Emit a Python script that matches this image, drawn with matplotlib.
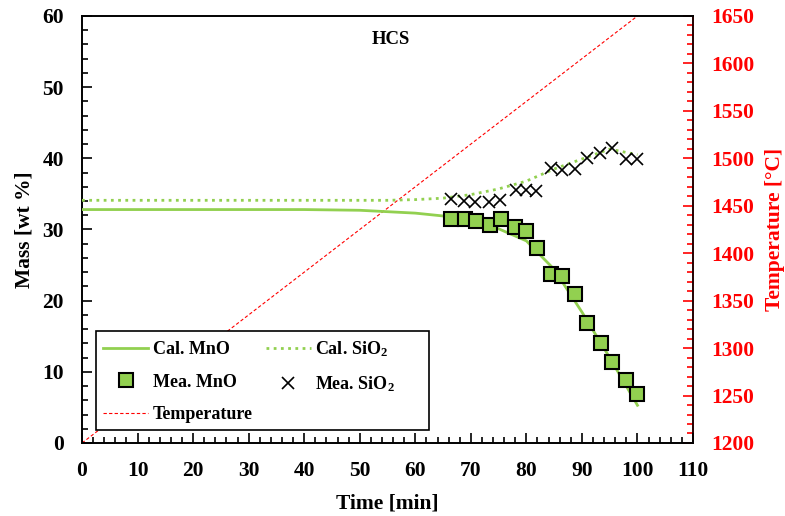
import matplotlib
matplotlib.use("Agg")
import matplotlib.pyplot as plt
from matplotlib.ticker import MultipleLocator
from matplotlib.patches import Rectangle

plt.rcParams['font.family'] = ['Liberation Serif', 'DejaVu Serif']
plt.rcParams['font.weight'] = 'bold'
plt.rcParams['mathtext.fontset'] = 'custom'
plt.rcParams['mathtext.rm'] = 'Liberation Serif:bold'
plt.rcParams['mathtext.it'] = 'Liberation Serif:bold'
plt.rcParams['mathtext.bf'] = 'Liberation Serif:bold'

# Calculated curves
cal_t = [0, 10, 20, 30, 40, 50, 55, 60, 65, 70, 75, 80, 85, 90, 95, 100]
cal_mno = [32.8, 32.8, 32.8, 32.8, 32.8, 32.7, 32.5, 32.3, 31.9, 31.2, 30.1, 28.4, 24.4, 18.4, 12.0, 5.3]
cal_sio2 = [34.1, 34.1, 34.1, 34.1, 34.1, 34.1, 34.1, 34.2, 34.4, 34.9, 35.7, 36.8, 38.5, 39.9, 41.3, 40.5]

# Measured values
mea_t = [66.5, 68.9, 70.9, 73.4, 75.5, 77.9, 79.9, 82.0, 84.4, 86.5, 88.8, 91.0, 93.4, 95.5, 98.0, 99.9]
mea_mno = [31.5, 31.5, 31.2, 30.6, 31.5, 30.4, 29.8, 27.4, 23.8, 23.5, 21.0, 16.9, 14.1, 11.4, 8.9, 6.9]
mea_sio2_t = [66.4, 68.8, 70.7, 73.3, 75.3, 78.2, 79.9, 81.7, 84.4, 86.5, 88.7, 90.9, 93.2, 95.4, 98.0, 99.9]
mea_sio2 = [34.3, 34.0, 33.9, 33.8, 34.2, 35.6, 35.5, 35.4, 38.6, 38.3, 38.5, 40.0, 40.7, 41.4, 39.9, 39.9]

# Temperature
temp_t = [0, 100]
temp_c = [1200, 1650]

green = '#92D050'
red = '#FF0000'

fig = plt.figure(figsize=(7.85, 5.16), dpi=100)
ax = fig.add_axes([0.1045, 0.1415, 0.7783, 0.8275])
ax2 = ax.twinx()

l1, = ax.plot(cal_t, cal_mno, color=green, lw=2.0, label='Cal. MnO', zorder=3)
l2, = ax.plot(cal_t, cal_sio2, color=green, lw=2.0, ls=(0, (1, 1.6)), label='Cal. SiO$_2$', zorder=3)
m1, = ax.plot(mea_t, mea_mno, ls='none', marker='s', ms=9.5, mfc=green, mec='black', mew=1.5,
              label='Mea. MnO', zorder=4)
m2, = ax.plot(mea_sio2_t, mea_sio2, ls='none', marker='x', ms=9, mec='black', mew=1.2,
              label='Mea. SiO$_2$', zorder=4)
t1, = ax2.plot(temp_t, temp_c, color=red, lw=0.8, ls=(0, (3, 2)), label='Temperature')

ax.set_xlim(0, 110)
ax.set_ylim(0, 60)
ax2.set_ylim(1200, 1650)

ax.xaxis.set_major_locator(MultipleLocator(10))
ax.xaxis.set_minor_locator(MultipleLocator(2))
ax.yaxis.set_major_locator(MultipleLocator(10))
ax.yaxis.set_minor_locator(MultipleLocator(2))
ax2.yaxis.set_major_locator(MultipleLocator(50))
ax2.yaxis.set_minor_locator(MultipleLocator(10))

ax.tick_params(axis='both', which='both', direction='in', labelsize=15.5, width=1.2, color='black')
ax.tick_params(axis='both', which='major', length=7, pad=13)
ax.tick_params(axis='both', which='minor', length=4)
ax.tick_params(axis='x', which='both', top=False)
ax2.tick_params(axis='y', which='both', direction='in', colors=red, labelsize=15.5, width=1.2)
ax2.tick_params(axis='y', which='major', length=7, pad=13)
ax2.tick_params(axis='y', which='minor', length=4)

for lab in ax.get_xticklabels() + ax.get_yticklabels() + ax2.get_yticklabels():
    lab.set_fontweight('bold')

for s in ax.spines.values():
    s.set_linewidth(1.2)
for s in ['left', 'bottom', 'top']:
    ax2.spines[s].set_linewidth(1.2)
ax2.spines['right'].set_color(red)
ax2.spines['right'].set_linewidth(1.2)

ax.set_xlabel('Time [min]', fontsize=15.5, fontweight='bold', labelpad=9)
ax.set_ylabel('Mass [wt %]', fontsize=15.5, fontweight='bold', labelpad=6)
ax2.set_ylabel('Temperature [°C]', fontsize=15.5, fontweight='bold', color=red, labelpad=8)

ax.text(0.506, 0.944, 'HCS', transform=ax.transAxes, ha='center', va='center',
        fontsize=13.5, fontweight='bold')

ax2.set_zorder(0)
ax.set_zorder(1)
ax.patch.set_visible(False)

# legend frame (drawn separately so its width matches the original box)
frame = Rectangle((0.023, 0.0304), 0.545, 0.232, transform=ax.transAxes,
                  facecolor='white', edgecolor='black', lw=1.2, zorder=5)
ax.add_patch(frame)

leg = ax.legend(handles=[l1, m1, t1, l2, m2], ncol=2, loc='lower left',
                bbox_to_anchor=(0.023, 0.030), borderaxespad=0, frameon=False,
                handlelength=2.5, handletextpad=0.25,
                columnspacing=0.7, labelspacing=0.85, borderpad=0.4,
                prop={'family': 'Liberation Serif', 'weight': 'bold', 'size': 13})
leg.set_zorder(6)

fig.savefig('out.png', dpi=100)
